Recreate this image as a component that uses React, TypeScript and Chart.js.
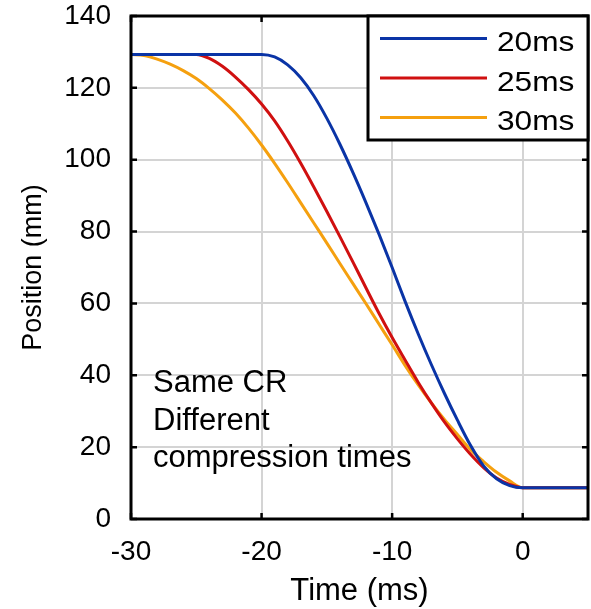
import { useEffect, useRef } from "react";
import { Chart, registerables } from "chart.js";

Chart.register(...registerables);

// ---- data ----
const TIME_MS = [
  -30, -29, -28, -27, -26, -25, -24, -23, -22, -21, -20, -19, -18, -17, -16, -15,
  -14, -13, -12, -11, -10, -9, -8, -7, -6, -5, -4, -3, -2, -1, 0, 5,
];
const POS_20MS = [
  129.3, 129.3, 129.3, 129.3, 129.3, 129.3, 129.3, 129.3, 129.3, 129.3, 129.3,
  128.6, 126.4, 122.8, 117.8, 111.5, 104.3, 96.4, 88, 79.2, 70, 60.5, 51.5, 43,
  35, 27.5, 20.5, 14.8, 11.2, 9.3, 8.7, 8.7,
];
const POS_25MS = [
  129.3, 129.3, 129.3, 129.3, 129.3, 129.3, 128.2, 126, 123, 119.5, 115.5,
  110.8, 105.2, 99, 92.4, 85.6, 78.6, 71.5, 64.3, 57.2, 50.5, 44.2, 38, 32.3,
  27, 22.3, 18, 14.3, 11.4, 9.6, 8.7, 8.7,
];
const POS_30MS = [
  129.3, 129, 128, 126.6, 124.8, 122.6, 119.8, 116.6, 113, 108.8, 104.1, 99,
  93.6, 88, 82.4, 76.8, 71.1, 65.5, 59.9, 54.2, 48.5, 42.7, 37.3, 32.3, 27.7,
  23.5, 19.3, 16, 13, 10.6, 8.7, 8.7,
];
const SERIES_LABELS = ["20ms", "25ms", "30ms"];
const SERIES_COLORS = ["#0a34a6", "#d01010", "#f5a00f"];
const X_TICKS = [-30, -20, -10, 0];
const Y_TICKS = [0, 20, 40, 60, 80, 100, 120, 140];
const NOTE_LINES = ["Same CR", "Different", "compression times"];

const FONT = "'Liberation Sans', Arial, sans-serif";

const pts = (ys: number[]) => TIME_MS.map((x, i) => ({ x, y: ys[i] }));

const framePlugin = {
  id: "frame",
  afterDatasetsDraw(chart: any) {
    const { ctx, chartArea: a, scales } = chart;
    ctx.save();
    // inward tick marks
    ctx.strokeStyle = "#000";
    ctx.lineWidth = 2.5;
    const tl = 6;
    X_TICKS.forEach((v) => {
      const px = scales.x.getPixelForValue(v);
      ctx.beginPath();
      ctx.moveTo(px, a.bottom);
      ctx.lineTo(px, a.bottom - tl);
      ctx.moveTo(px, a.top);
      ctx.lineTo(px, a.top + tl);
      ctx.stroke();
    });
    Y_TICKS.forEach((v) => {
      const py = scales.y.getPixelForValue(v);
      ctx.beginPath();
      ctx.moveTo(a.left, py);
      ctx.lineTo(a.left + tl, py);
      ctx.moveTo(a.right, py);
      ctx.lineTo(a.right - tl, py);
      ctx.stroke();
    });
    // box
    ctx.lineWidth = 3;
    ctx.strokeRect(a.left, a.top, a.right - a.left, a.bottom - a.top);

    // annotation
    ctx.fillStyle = "#000";
    ctx.font = `31px ${FONT}`;
    ctx.textAlign = "left";
    ctx.textBaseline = "alphabetic";
    NOTE_LINES.forEach((t, i) => {
      ctx.fillText(t, a.left + 22, 392 + i * 37.5);
    });

    // legend
    const lx = 368;
    const ly = a.top;
    const lw = a.right - lx;
    const lh = 124;
    ctx.fillStyle = "#fff";
    ctx.fillRect(lx, ly, lw, lh);
    ctx.strokeStyle = "#000";
    ctx.lineWidth = 3;
    ctx.strokeRect(lx, ly, lw, lh);
    chart.data.datasets.forEach((ds: any, i: number) => {
      const yLine = ly + 22.5 + i * 39.5;
      ctx.strokeStyle = ds.borderColor;
      ctx.lineWidth = 3;
      ctx.beginPath();
      ctx.moveTo(lx + 12, yLine);
      ctx.lineTo(lx + 119, yLine);
      ctx.stroke();
      ctx.save();
      ctx.translate(lx + 129, yLine + 12.5);
      ctx.scale(1.13, 1);
      ctx.fillStyle = "#000";
      ctx.font = `28px ${FONT}`;
      ctx.fillText(ds.label, 0, 0);
      ctx.restore();
    });
    ctx.restore();
  },
};

export default function App() {
  const ref = useRef<HTMLCanvasElement | null>(null);

  useEffect(() => {
    if (!ref.current) return;
    const tickFont = { family: FONT, size: 28 };
    const chart = new Chart(ref.current, {
      type: "scatter",
      data: {
        datasets: [POS_20MS, POS_25MS, POS_30MS].map((ys, i) => ({
          label: SERIES_LABELS[i],
          data: pts(ys),
          showLine: true,
          borderColor: SERIES_COLORS[i],
          backgroundColor: SERIES_COLORS[i],
          borderWidth: 3,
          pointRadius: 0,
          cubicInterpolationMode: "monotone" as const,
        })),
      },
      options: {
        animation: false,
        responsive: false,
        maintainAspectRatio: false,
        layout: { padding: { left: 0, top: 16, right: 3, bottom: 0 } },
        plugins: {
          legend: { display: false },
          tooltip: { enabled: false },
        },
        scales: {
          x: {
            type: "linear",
            min: -30,
            max: 5,
            afterBuildTicks: (s: any) => {
              s.ticks = X_TICKS.map((value) => ({ value }));
            },
            afterFit: (s: any) => {
              s.height = 90;
              s.paddingLeft = 0;
              s.paddingRight = 0;
            },
            grid: { color: "#d4d4d4", lineWidth: 2, drawTicks: false },
            border: { display: false },
            ticks: {
              color: "#000",
              font: tickFont,
              padding: 16,
              maxRotation: 0,
              callback: (v: any) => String(v),
            },
            title: {
              display: true,
              text: "Time (ms)",
              color: "#000",
              font: { family: FONT, size: 31, lineHeight: 1.1 },
              padding: { top: 0, bottom: 0 },
            },
          },
          y: {
            type: "linear",
            min: 0,
            max: 140,
            afterBuildTicks: (s: any) => {
              s.ticks = Y_TICKS.map((value) => ({ value }));
            },
            afterFit: (s: any) => {
              s.width = 131;
              s.paddingTop = 0;
              s.paddingBottom = 0;
            },
            grid: { color: "#d4d4d4", lineWidth: 2, drawTicks: false },
            border: { display: false },
            ticks: {
              color: "#000",
              font: tickFont,
              padding: 20,
              callback: (v: any) => String(v),
            },
            title: {
              display: true,
              text: "Position (mm)",
              color: "#000",
              font: { family: FONT, size: 27 },
              padding: { top: 17, bottom: 0 },
            },
          },
        },
      },
      plugins: [framePlugin],
    });
    return () => chart.destroy();
  }, []);

  return (
    <div style={{ position: "absolute", left: 0, top: 0, width: 591, height: 609, background: "#fff" }}>
      <canvas ref={ref} width={591} height={609} style={{ display: "block" }} />
    </div>
  );
}
